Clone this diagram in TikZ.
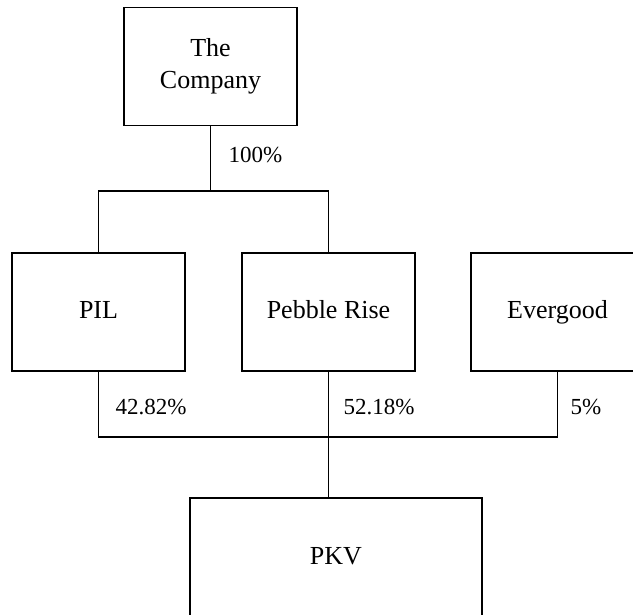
\documentclass[tikz,border=0pt]{standalone}
\usepackage{fontspec}
\setmainfont{Liberation Serif}
\begin{document}
\begin{tikzpicture}[x=0.5pt,y=-0.5pt,line width=0.7pt,
  entity/.style={draw,minimum width=86.5pt,minimum height=59pt,inner sep=0pt,align=center,font=\fontsize{13}{16}\selectfont},
  oneline/.style={entity,text height=0.88em,text depth=0.22em},
  pct/.style={anchor=west,inner sep=0pt,font=\fontsize{11.5}{14}\selectfont}]
\useasboundingbox (0,0) rectangle (633,615);
\node[entity] (comp) at (210.5,66.5) {The\\Company};
\node[oneline] (pil) at (98.5,312) {PIL};
\node[oneline] (peb) at (328.5,312) {Pebble Rise};
\node[oneline] (ever) at (557.5,312) {Evergood};
\node[oneline,minimum width=146pt,minimum height=60pt] (pkv) at (336,558) {PKV};
\coordinate (bus1) at (0,191);
\coordinate (bus2) at (0,437);
\draw (comp.south) -- (comp.south |- bus1);
\draw (pil.north) |- (bus1 -| peb.north) -- (peb.north);
\draw (pil.south) |- (bus2 -| ever.south) -- (ever.south);
\draw (peb.south) -- (pkv.north -| peb.south);
\node[pct] (l0) at (228,155) {100\%};
\node[pct] (l1) at (115,407) {42.82\%};
\node[pct] (l2) at (343,407) {52.18\%};
\node[pct] (l3) at (570,407) {5\%};
\end{tikzpicture}
\end{document}
